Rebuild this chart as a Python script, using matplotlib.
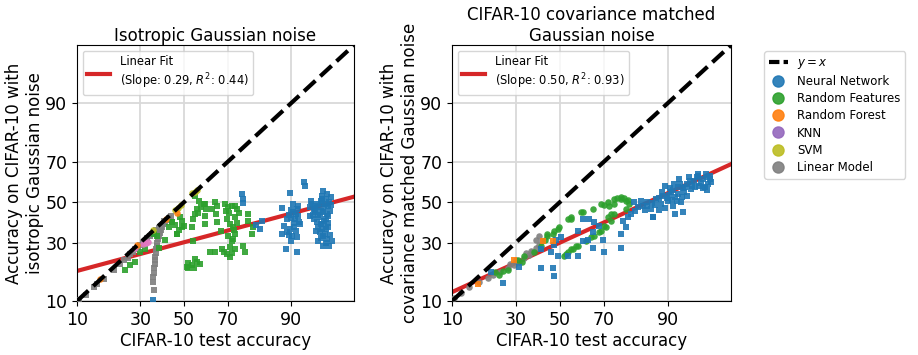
import math
import numpy as np
import matplotlib
matplotlib.use("Agg")
import matplotlib.pyplot as plt
from matplotlib.lines import Line2D

# accuracy values in percent
iso_nn = [
    (92.4, 60.3), (92.6, 58.5), (89.8, 54.7), (90.4, 49.0), (88.0, 47.0), (90.4, 44.8),
    (91.4, 42.8), (89.0, 41.2), (88.5, 38.0), (89.8, 36.2), (88.0, 33.8), (90.2, 32.9),
    (91.2, 32.4), (88.8, 27.3), (91.2, 25.7), (91.8, 38.7), (90.8, 41.2), (91.4, 48.0),
    (90.0, 46.0), (89.5, 43.5), (90.6, 39.5), (89.2, 35.0), (91.0, 35.5), (90.0, 30.5),
    (90.9, 44.0), (91.1, 46.5), (89.9, 42.0), (90.5, 37.5), (91.5, 40.0), (89.6, 33.5),
    (95.2, 55.7), (95.1, 53.1), (95.5, 51.6), (93.7, 49.0), (93.4, 47.4), (94.6, 47.4),
    (95.7, 47.9), (94.1, 44.8), (95.2, 44.8), (94.8, 42.2), (95.5, 41.2), (94.4, 39.7),
    (95.1, 38.7), (95.5, 36.2), (94.8, 34.8), (95.2, 32.9), (94.6, 30.5), (95.5, 30.0),
    (95.9, 28.3), (95.2, 28.3), (93.6, 50.5), (95.9, 50.0), (93.4, 42.8), (95.7, 42.8),
    (94.2, 46.0), (95.0, 49.5), (96.0, 45.5), (94.0, 41.5), (95.8, 39.5), (94.5, 37.5),
    (96.0, 33.5), (94.3, 35.5), (95.6, 54.0), (96.1, 52.5), (93.9, 43.5), (96.2, 30.5),
    (94.9, 50.5), (94.5, 49.0), (95.3, 47.0), (94.9, 45.5), (95.6, 44.0), (94.6, 43.5),
    (95.3, 40.5), (94.9, 39.0), (95.7, 37.5), (95.0, 36.5), (95.4, 34.0), (94.9, 32.0),
    (95.6, 31.5), (94.1, 48.0), (94.0, 46.5), (96.1, 48.5), (95.0, 51.8), (95.4, 49.0),
    (75.5, 54.0), (75.8, 51.5), (76.0, 49.5), (82.4, 40.2), (81.9, 36.2), (80.5, 38.5),
    (35.6, 10.2),
]
iso_rf = [
    (55.2, 53.0), (57.0, 50.5), (59.5, 49.0), (58.0, 47.5), (60.5, 46.5),
    (59.9, 49.0), (64.5, 50.0), (65.4, 48.0), (68.8, 49.0), (70.1, 47.4), (71.7, 47.9),
    (73.7, 46.3), (56.0, 46.3), (55.2, 43.8), (59.9, 42.8), (54.3, 41.2), (59.9, 38.7),
    (65.4, 39.7), (69.7, 41.2), (72.9, 42.2), (77.8, 43.8), (77.8, 40.2), (79.6, 37.2),
    (79.2, 33.8), (72.1, 37.2), (72.9, 33.8), (71.7, 30.5), (49.0, 40.2), (49.0, 37.2),
    (44.3, 39.7), (46.7, 33.8), (53.8, 37.2), (54.3, 30.5), (51.4, 20.0), (53.8, 20.8),
    (56.0, 22.0), (62.2, 25.7), (64.5, 25.7), (67.5, 27.0), (69.7, 24.9), (70.9, 23.8),
    (72.9, 27.0), (76.1, 28.3), (76.8, 26.1), (70.1, 32.9), (48.0, 42.2), (46.7, 33.8),
    (42.8, 37.2), (40.9, 31.4), (37.3, 32.9), (38.2, 27.8), (32.0, 27.0), (29.9, 26.1),
    (25.9, 20.8), (24.0, 19.1), (27.8, 22.0), (50.0, 37.7), (51.9, 19.8), (44.3, 39.7),
    (36.0, 33.8), (65.0, 44.0), (67.0, 35.5), (73.5, 39.5), (74.5, 44.5), (57.5, 21.0),
    (55.0, 23.0), (68.5, 26.0), (71.0, 28.0), (63.0, 46.5), (70.5, 44.5),
    (52.0, 21.5), (54.5, 19.5), (71.5, 25.5), (72.5, 36.0), (71.0, 39.0), (73.0, 48.0),
    (72.0, 31.5), (69.0, 45.5), (56.5, 44.5), (45.5, 38.5), (47.5, 36.0),
]
iso_forest = [(15.7, 16.0), (28.7, 28.8), (41.2, 41.2), (46.7, 44.3)]
iso_knn = [(28.0, 27.5), (31.0, 29.5), (32.5, 29.8), (33.5, 30.3)]
iso_svm = [(35.5, 36.0), (45.5, 45.8), (47.0, 47.0), (48.5, 48.5),
           (54.0, 54.5), (55.0, 55.3), (56.0, 56.0)]
iso_linear = [
    (10.5, 10.3), (12.0, 11.5), (14.0, 13.5), (15.0, 14.5), (17.0, 16.0), (20.0, 19.0),
    (22.0, 21.0), (23.5, 22.5), (25.0, 23.5), (26.0, 25.0), (27.0, 26.0), (28.0, 27.0),
    (29.0, 28.0), (30.0, 29.0), (31.0, 30.0), (32.0, 30.5), (33.0, 32.0), (34.0, 33.0),
    (35.0, 34.0), (36.0, 35.0), (37.0, 36.0), (38.0, 37.0), (39.0, 38.0), (40.0, 39.0),
    (41.0, 40.0), (42.0, 41.0), (43.0, 42.0), (44.0, 43.0),
    (35.9, 12.8), (35.5, 15.0), (35.5, 16.5), (35.8, 18.0), (36.0, 19.5), (36.2, 21.0),
    (36.3, 22.5), (36.5, 24.0), (36.8, 25.5), (37.0, 27.0), (37.2, 28.5), (37.5, 30.0),
    (37.8, 31.5), (38.2, 33.0), (38.6, 34.5), (39.0, 36.0), (39.5, 37.5), (40.0, 39.0),
    (40.5, 40.5),
]

cov_nn = [
    (83.7, 48.0), (85.0, 50.0), (86.0, 46.3), (86.5, 42.2), (87.3, 51.6), (88.5, 49.0),
    (89.0, 53.1), (89.5, 58.3), (90.0, 50.5), (90.6, 55.2), (91.0, 48.0), (91.5, 52.6),
    (91.9, 57.8), (92.1, 61.8), (92.5, 50.0), (93.0, 55.2), (93.4, 59.3), (93.8, 62.7),
    (94.0, 56.7), (94.4, 60.8), (95.0, 64.2), (95.1, 58.3), (95.5, 61.8), (95.9, 64.2),
    (96.1, 59.3), (96.3, 61.8), (92.8, 44.8), (91.5, 43.8), (88.0, 52.0), (90.2, 53.5),
    (92.0, 54.0), (93.5, 53.0), (94.8, 62.5), (96.3, 63.0), (95.5, 57.0), (94.2, 58.5),
    (92.8, 57.0), (91.2, 59.5), (89.5, 47.0), (87.0, 48.5), (96.0, 56.0), (96.4, 60.5),
    (89.8, 52.0), (90.8, 51.0), (91.8, 50.5), (92.6, 52.5), (93.2, 57.5), (94.6, 57.5),
    (95.3, 60.0), (93.9, 61.0), (92.4, 59.5), (90.4, 57.0), (88.7, 55.0), (86.2, 49.5),
    (84.5, 46.0), (88.0, 46.0), (91.0, 56.0), (94.9, 63.2), (96.0, 62.5), (95.8, 58.0),
    (83.2, 50.5), (86.5, 42.2), (85.0, 48.0), (82.2, 47.4), (81.0, 50.0), (80.0, 43.8),
    (79.0, 42.2), (77.3, 40.2), (78.3, 37.2), (76.5, 33.8), (76.5, 27.8), (81.5, 45.5),
    (63.4, 41.2), (65.7, 39.7), (67.8, 37.7), (65.2, 34.8), (63.0, 31.4), (60.6, 30.5),
    (65.2, 27.8), (69.8, 26.1), (69.4, 31.4), (58.4, 35.3), (48.0, 31.4), (50.3, 32.4),
    (49.0, 24.1), (54.0, 24.1), (58.4, 24.1), (45.6, 26.1), (40.9, 27.0), (47.0, 29.0),
    (40.9, 19.8), (46.5, 19.8), (47.0, 17.0), (31.2, 20.2), (24.8, 14.7), (20.5, 18.2),
    (61.0, 41.2),
]
cov_rf = [
    (22.2, 18.2), (24.8, 18.5), (30.8, 22.8), (33.3, 24.1), (37.7, 26.1), (40.9, 28.3),
    (44.1, 32.9), (47.0, 35.3), (49.5, 37.2), (54.0, 41.2), (55.1, 42.2), (59.7, 44.8),
    (65.2, 46.3), (69.8, 48.5), (71.9, 48.0), (73.9, 49.0), (76.5, 51.6), (78.3, 50.5),
    (79.3, 49.0), (78.3, 46.3), (71.5, 42.2), (70.7, 37.2), (68.6, 35.3), (72.7, 40.2),
    (73.9, 43.8), (52.0, 24.1), (54.0, 25.7), (56.4, 27.0), (58.4, 28.3), (65.7, 32.9),
    (23.3, 17.4), (26.7, 19.1), (32.8, 22.0), (43.0, 31.4), (44.0, 33.8), (46.5, 33.8),
    (49.0, 36.2), (55.1, 41.2), (60.6, 44.8), (68.6, 49.0), (71.5, 50.0), (73.9, 51.6),
    (76.5, 52.6), (55.1, 27.0), (57.4, 28.3), (62.0, 30.5), (64.3, 32.4), (67.8, 34.8),
    (69.8, 37.7), (72.7, 43.8), (75.0, 52.0), (77.5, 52.0), (79.0, 51.0), (53.0, 25.0),
]
cov_forest = [(16.4, 14.3), (29.2, 22.8), (42.2, 30.5), (46.5, 30.5)]
cov_linear = [
    (10.5, 10.8), (12.0, 12.0), (13.9, 13.5), (16.7, 14.9), (19.5, 16.4), (21.5, 17.4),
    (24.0, 18.3), (26.7, 19.8), (29.2, 20.8), (31.2, 22.0), (33.3, 23.6), (35.5, 24.5),
    (37.2, 26.1), (38.6, 27.8), (40.0, 29.0), (41.8, 30.5), (40.0, 32.9), (39.0, 31.0),
    (36.5, 26.5), (34.5, 25.5), (30.0, 22.5), (27.5, 21.0),
]

fit_slope = [0.29, 0.50]       # slope in probit space
fit_intercept = [-0.52, -0.525]  # probit(y) at x = 50%
fit_r2 = [0.44, 0.93]

titles = ["Isotropic Gaussian noise", "CIFAR-10 covariance matched\nGaussian noise"]
ylabels = ["Accuracy on CIFAR-10 with\nisotropic Gaussian noise",
           "Accuracy on CIFAR-10 with\ncovariance matched Gaussian noise"]
ticks = [10, 30, 50, 70, 90]
lim = [10, 97.9]

_erf = np.vectorize(math.erf, otypes=[float])


def norm_cdf(z):
    return 0.5 * (1 + _erf(np.asarray(z, float) / math.sqrt(2)))


def norm_ppf(p):
    p = np.clip(np.asarray(p, float), 1e-9, 1 - 1e-9)
    lo = np.full(p.shape, -8.0)
    hi = np.full(p.shape, 8.0)
    for _ in range(50):
        mid = 0.5 * (lo + hi)
        below = norm_cdf(mid) < p
        lo = np.where(below, mid, lo)
        hi = np.where(below, hi, mid)
    return 0.5 * (lo + hi)


def forward(v):
    return norm_ppf(np.asarray(v, float) / 100.0)


def inverse(z):
    return norm_cdf(z) * 100.0


colors = {"nn": "#1f77b4", "rf": "#2ca02c", "forest": "#ff7f0e",
          "knn": "#e377c2", "svm": "#bcbd22", "linear": "#7f7f7f"}

fig = plt.figure(figsize=(9.18, 3.55), dpi=100)
ax1 = fig.add_axes([0.0839, 0.152, 0.3017, 0.721])
ax2 = fig.add_axes([0.4924, 0.152, 0.304, 0.721])

panels = [
    (ax1, [("linear", iso_linear, "s"), ("rf", iso_rf, "s"), ("nn", iso_nn, "s"),
           ("knn", iso_knn, "o"), ("svm", iso_svm, "o"), ("forest", iso_forest, "o")]),
    (ax2, [("linear", cov_linear, "o"), ("rf", cov_rf, "o"), ("nn", cov_nn, "s"),
           ("forest", cov_forest, "s")]),
]

for i, (ax, groups) in enumerate(panels):
    ax.set_xscale("function", functions=(forward, inverse))
    ax.set_yscale("function", functions=(forward, inverse))
    ax.set_xlim(lim)
    ax.set_ylim(lim)
    ax.set_xticks(ticks)
    ax.set_yticks(ticks)
    ax.set_xticklabels([str(t) for t in ticks])
    ax.set_yticklabels([str(t) for t in ticks])
    ax.minorticks_off()
    ax.tick_params(labelsize=12.5)
    ax.grid(True, color="#d9d9d9", lw=1.3)
    ax.set_axisbelow(True)

    for key, pts, mk in groups:
        arr = np.array(pts)
        ax.scatter(arr[:, 0], arr[:, 1], s=22, marker=mk, color=colors[key],
                   linewidths=0, alpha=0.9, zorder=3)

    diag = np.linspace(lim[0], lim[1], 200)
    ax.plot(diag, diag, "k--", lw=3, zorder=4)

    fit_y = inverse(fit_slope[i] * forward(diag) + fit_intercept[i])
    ax.plot(diag, fit_y, color="#d62728", lw=3, zorder=2,
            label="Linear Fit\n(Slope: %.2f, $R^2$: %.2f)" % (fit_slope[i], fit_r2[i]))
    ax.legend(loc="upper left", fontsize=8.3)

    ax.set_title(titles[i], fontsize=12, pad=3)
    ax.set_xlabel("CIFAR-10 test accuracy", fontsize=12, labelpad=2)
    ax.set_ylabel(ylabels[i], fontsize=12, labelpad=1)

handles = [Line2D([], [], color="k", ls=(0, (2.5, 1)), lw=3, label="$y = x$")]
names = [("nn", "Neural Network"), ("rf", "Random Features"), ("forest", "Random Forest"),
         ("knn", "KNN"), ("svm", "SVM"), ("linear", "Linear Model")]
knn_legend = "#9467bd"
for key, name in names:
    c = knn_legend if key == "knn" else colors[key]
    handles.append(Line2D([], [], ls="", marker="o", ms=8, color=c, alpha=0.9, label=name))
fig.legend(handles=handles, loc="upper left", bbox_to_anchor=(0.826, 0.872),
           fontsize=8.5, labelspacing=0.35, handlelength=1.6)

fig.savefig("out.png", dpi=100)
